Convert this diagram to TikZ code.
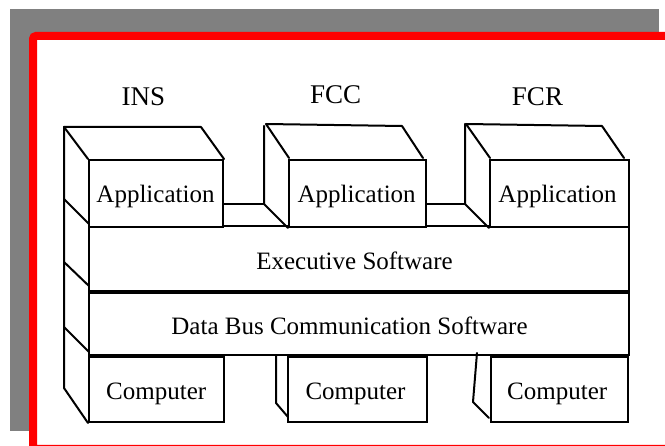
\documentclass[tikz,border=0pt]{standalone}
\usepackage{fontspec}
\setmainfont{Liberation Serif}
\usetikzlibrary{fit}
\begin{document}
\begin{tikzpicture}[x=1pt,y=-1pt]
\tikzset{
  ln/.style={line width=2pt, line cap=round, line join=round},
  blk/.style={draw, line width=2pt, inner sep=0pt, fill=white},
  txt/.style={anchor=base, inner sep=0pt, font=\fontsize{25}{30}\selectfont},
  lbl/.style={anchor=base, inner sep=0pt, font=\fontsize{27}{32}\selectfont}
}
\useasboundingbox (0,0) rectangle (665,446);
% slide background
\fill[fill={rgb,255:red,128;green,128;blue,128}] (10,9) rectangle (659,431);
\draw[red, line width=8pt, rounded corners=3pt, fill=white] (33,36) rectangle (669,449);

% titles
\node[lbl] (tins) at (143.5,105.7) {INS};
\node[lbl] (tfcc) at (335.7,103.3) {FCC};
\node[lbl] (tfcr) at (537.5,106) {FCR};

% layers
\node[blk, fit={(89,226)(629,291.5)}] (exec) {};
\node[blk, fit={(89,293.5)(629,355.5)}] (bus) {};

% computers
\node[blk, fit={(89,357)(224,422)}] (c1) {};
\node[blk, fit={(288,357)(427,422)}] (c2) {};
\node[blk, fit={(491,357)(628,422)}] (c3) {};

% applications
\node[blk, fit={(89,160)(223,227)}] (insapp) {};
\node[blk, fit={(289,160)(426,227)}] (fccapp) {};
\node[blk, fit={(490,160)(629,227)}] (fcrapp) {};

% INS cube and side of stack
\coordinate (insTL) at (64,127);
\coordinate (insTR) at (201,127);
\coordinate (insBot) at (64,388);
\draw[ln] (insapp.north west) -- (insTL) -- (insTR) -- (insapp.north east);
\draw[ln] (insTL) -- (insBot) -- (c1.south west);
\coordinate (s1a) at (64,199); \coordinate (s1b) at (89,224);
\coordinate (s2a) at (64,262); \coordinate (s2b) at (89,286);
\coordinate (s3a) at (64,327); \coordinate (s3b) at (89,352);
\draw[ln] (s1a) -- (s1b);
\draw[ln] (s2a) -- (s2b);
\draw[ln] (s3a) -- (s3b);

% FCC cube
\coordinate (fccTL) at (266,124);
\coordinate (fccTR) at (402,126);
\coordinate (fccTRf) at (423,158);
\coordinate (fccTLf) at (289,158);
\coordinate (fccV) at (264,126);
\coordinate (fccVB) at (264,204);
\draw[ln] (fccTLf) -- (fccTL) -- (fccTR) -- (fccTRf);
\draw[ln] (fccV) -- (fccVB) -- (fccapp.south west);
\draw[ln] (insapp.east |- fccVB) -- (fccVB);

% FCR cube
\coordinate (fcrTL) at (466,124);
\coordinate (fcrTR) at (602,126);
\coordinate (fcrTRf) at (624,158);
\coordinate (fcrTLf) at (490,158);
\coordinate (fcrV) at (465,124);
\coordinate (fcrVB) at (465,204);
\draw[ln] (fcrTLf) -- (fcrTL) -- (fcrTR) -- (fcrTRf);
\draw[ln] (fcrV) -- (fcrVB) -- (fcrapp.south west);
\draw[ln] (fccapp.east |- fcrVB) -- (fcrVB);

% computer backs
\coordinate (c2a) at (276,356); \coordinate (c2b) at (276,403); \coordinate (c2c) at (288,417);
\draw[ln] (c2a) -- (c2b) -- (c2c);
\coordinate (c3a) at (477,353); \coordinate (c3b) at (473,402); \coordinate (c3c) at (489,418);
\draw[ln] (c3a) -- (c3b) -- (c3c);

% texts
\node[txt] (a1) at (155.5,202.7) {Application};
\node[txt] (a2) at (356.7,202.7) {Application};
\node[txt] (a3) at (557.5,202.7) {Application};
\node[txt] (ex) at (354.5,269.3) {Executive Software};
\node[txt] (db) at (349.5,335) {Data Bus Communication Software};
\node[txt] (k1) at (156.2,400) {Computer};
\node[txt] (k2) at (355.5,400) {Computer};
\node[txt] (k3) at (557.2,400) {Computer};
\end{tikzpicture}
\end{document}
